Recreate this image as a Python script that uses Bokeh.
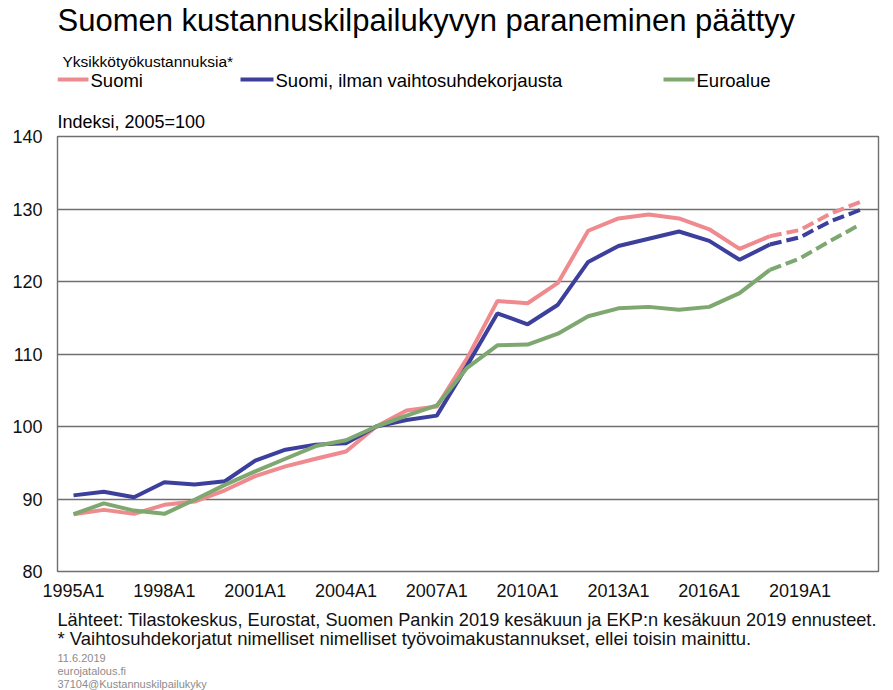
from bokeh.plotting import figure
from bokeh.layouts import column
from bokeh.models import Range1d, FixedTicker, Label
from bokeh.embed import file_html
from bokeh.resources import INLINE

# ---------------- data ----------------
years = list(range(1995, 2022))
suomi = [87.9, 88.5, 87.95, 89.2, 89.65, 91.2, 93.15, 94.5, 95.55, 96.55, 100.0,
         102.2, 102.75, 109.4, 117.3, 117.0, 119.8, 127.0, 128.7, 129.25, 128.7,
         127.2, 124.5, 126.25, 127.1, 129.35, 131.0]
suomi_ilman = [90.5, 91.0, 90.25, 92.3, 92.0, 92.45, 95.3, 96.8, 97.5, 97.7, 100.0,
               100.9, 101.5, 108.4, 115.6, 114.1, 116.8, 122.7, 124.9, 125.9, 126.9,
               125.6, 123.0, 125.1, 126.1, 128.3, 129.9]
euroalue = [87.9, 89.4, 88.4, 87.95, 89.9, 91.95, 93.8, 95.55, 97.3, 98.1, 100.0,
            101.5, 102.9, 108.1, 111.2, 111.3, 112.8, 115.2, 116.3, 116.5, 116.1,
            116.5, 118.4, 121.6, 123.2, 125.6, 127.9]
forecast_from = 2018

x_tick_years = [1995, 1998, 2001, 2004, 2007, 2010, 2013, 2016, 2019]
x_tick_labels = ["1995A1", "1998A1", "2001A1", "2004A1", "2007A1", "2010A1",
                 "2013A1", "2016A1", "2019A1"]
y_ticks = [80, 90, 100, 110, 120, 130, 140]

series_names = ["Suomi", "Suomi, ilman vaihtosuhdekorjausta", "Euroalue"]
series_colors = ["#ef8a8f", "#3c3f9c", "#7ea870"]

title_text = "Suomen kustannuskilpailukyvyn paraneminen päättyy"
subtitle_text = "Yksikkötyökustannuksia*"
yunit_text = "Indeksi, 2005=100"
footer_lines = [
    "Lähteet: Tilastokeskus, Eurostat, Suomen Pankin 2019 kesäkuun ja EKP:n kesäkuun 2019 ennusteet.",
    "* Vaihtosuhdekorjatut nimelliset nimelliset työvoimakustannukset, ellei toisin mainittu.",
]
small_lines = ["11.6.2019", "eurojatalous.fi", "37104@Kustannuskilpailukyky"]

FONT = "Liberation Sans"
W = 893
FRAME_L, FRAME_R = 57, 878          # plot frame edges in page pixels
HDR_H, MAIN_H, FTR_H = 100, 505, 85
BL, BR = FRAME_L, W - FRAME_R


def panel(height):
    """Header/footer canvas whose data coordinates equal page pixels."""
    return figure(width=W, height=height, x_range=Range1d(FRAME_L, FRAME_R),
                  y_range=Range1d(height, 0), x_axis_type=None, y_axis_type=None,
                  title=None, toolbar_location=None, output_backend="svg",
                  min_border_left=BL, min_border_right=BR, min_border_top=0,
                  min_border_bottom=0, outline_line_color=None)


def put(f, x, baseline, text, size, color="#000000"):
    # the rendered alphabetic baseline sits about 0.34 em below the anchor
    f.add_layout(Label(x=x, y=baseline - 0.34 * size, text=text, text_font=FONT,
                       text_font_size=f"{size}px", text_color=color,
                       text_baseline="alphabetic", text_align="left"))


# ---------------- header (page y = header y) ----------------
hdr = panel(HDR_H)
put(hdr, 57, 31, title_text, 31)
put(hdr, 62, 66, subtitle_text, 15.5)
sw_x0 = [57, 240, 663]
sw_x1 = [88, 273, 694]
hdr.segment(x0=sw_x0, y0=[79] * 3, x1=sw_x1, y1=[79] * 3,
            line_color=series_colors, line_width=4)
for x1, name in zip(sw_x1, series_names):
    put(hdr, x1 + 2, 86, name, 18.5)

# ---------------- main chart ----------------
p = figure(width=W, height=MAIN_H, x_range=Range1d(1994.47, 2021.59),
           y_range=Range1d(80, 140), toolbar_location=None, output_backend="svg",
           min_border_left=BL, min_border_right=BR, min_border_top=36,
           min_border_bottom=MAIN_H - 36 - 435, title=yunit_text)
p.title.align = "left"
p.title.text_font = FONT
p.title.text_font_size = "18px"
p.title.text_font_style = "normal"
p.title.text_color = "#000000"
p.title.standoff = 10

i0 = years.index(forecast_from)
for vals, col in zip([suomi, suomi_ilman, euroalue], series_colors):
    p.line(years[:i0 + 1], vals[:i0 + 1], line_color=col, line_width=4)
    p.line(years[i0:], vals[i0:], line_color=col, line_width=4, line_dash="12 5")

p.xaxis.ticker = FixedTicker(ticks=x_tick_years)
p.xaxis.major_label_overrides = dict(zip(x_tick_years, x_tick_labels))
p.yaxis.ticker = FixedTicker(ticks=y_ticks)
p.axis.axis_line_color = None
p.axis.major_tick_line_color = None
p.axis.minor_tick_line_color = None
p.axis.major_label_text_font = FONT
p.axis.major_label_text_color = "#111111"
p.axis.major_label_text_font_size = "18px"
p.xaxis.major_label_standoff = 3
p.yaxis.major_label_standoff = 9
p.xgrid.grid_line_color = None
p.ygrid.grid_line_color = "#6f6f6f"
p.ygrid.grid_line_width = 1.4
p.outline_line_color = "#6f6f6f"
p.outline_line_width = 1.4
p.background_fill_color = "white"
p.border_fill_color = "white"

# ---------------- footer (page y = 605 + footer y) ----------------
ftr = panel(FTR_H)
put(ftr, 57, 21, footer_lines[0], 18.2, "#111111")
put(ftr, 57, 39, footer_lines[1], 18.5, "#111111")
for b, t in zip([56.5, 69.5, 82], small_lines):
    put(ftr, 57, b, t, 11, "#8c8c8c")

layout = column(hdr, p, ftr, spacing=0)
open("out.html", "w").write(file_html(layout, INLINE))
